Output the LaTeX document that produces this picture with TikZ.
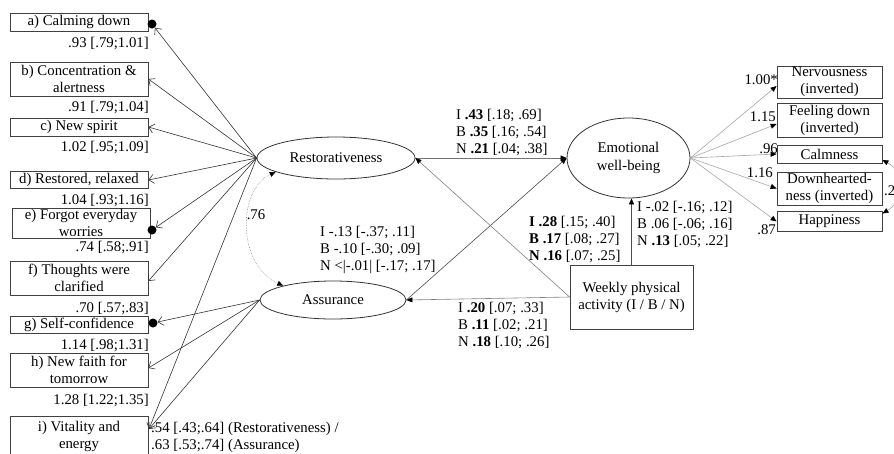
\documentclass[tikz,border=0pt]{standalone}
\usepackage{fontspec}
\setmainfont{Liberation Serif}
\usetikzlibrary{arrows.meta,shapes.geometric}
\begin{document}
\begin{tikzpicture}[x=1pt,y=-1pt,
  every node/.style={font=\fontsize{14.8}{17}\selectfont, inner sep=0pt},
  item/.style={draw=black!75, line width=0.8pt, minimum width=138pt, align=center},
  ind/.style={draw=black!75, line width=0.8pt, minimum width=105pt, align=center},
  latent/.style={draw=black!80, line width=0.8pt, ellipse, align=center},
  dotmark/.style={circle, fill=black, minimum size=9pt},
  lbl/.style={align=left},
  loadl/.style={draw=black!80, line width=0.6pt, -{Straight Barb[length=5pt,width=9pt]}},
  effect/.style={line width=0.6pt, -{Triangle[length=6pt,width=5pt,color=black]}},
  loadr/.style={draw=black!35, line width=0.6pt, -{Triangle[length=6pt,width=5pt,color=black]}},
  covar/.style={line width=0.6pt, {Triangle[length=6pt,width=5pt,color=black]}-{Triangle[length=6pt,width=5pt,color=black]}}
]
\useasboundingbox (0,0) rectangle (894,453);

% ---- restorative outcome items (left) ----
\node[item, minimum height=18pt] (a) at (79,22) {a) Calming down};
\node[item, minimum height=34pt] (b) at (79,79) {b) Concentration \&\\alertness};
\node[item, minimum height=18pt] (c) at (79,127) {c) New spirit};
\node[item, minimum height=17pt] (d) at (79,180) {d) Restored, relaxed};
\node[item, minimum height=30pt] (e) at (81,223) {e) Forgot everyday\\worries};
\node[item, minimum height=34pt] (f) at (79,278) {f) Thoughts were\\clarified};
\node[item, minimum height=17pt] (g) at (79,324.5) {g) Self-confidence};
\node[item, minimum height=34pt] (h) at (79,370) {h) New faith for\\tomorrow};
\node[item, minimum height=40pt] (i) at (79,436) {i) Vitality and\\energy};

\node[dotmark] (adot) at (152,24) {};
\node[dotmark] (edot) at (152,230) {};
\node[dotmark] (gdot) at (153,323) {};
\coordinate (ip) at (149,429);

% loadings
\node[anchor=east] (la) at (149,44) {.93 [.79;1.01]};
\node[anchor=east] (lb) at (149,108) {.91 [.79;1.04]};
\node[anchor=east] (lc) at (149,148) {1.02 [.95;1.09]};
\node[anchor=east] (ld) at (149,200) {1.04 [.93;1.16]};
\node[anchor=east] (le) at (149,247) {.74 [.58;.91]};
\node[anchor=east] (lf) at (149,308) {.70 [.57;.83]};
\node[anchor=east] (lg) at (149,345) {1.14 [.98;1.31]};
\node[anchor=east] (lh) at (149,400) {1.28 [1.22;1.35]};
\node[lbl, anchor=west] (li) at (151,437) {.54 [.43;.64] (Restorativeness) /\\.63 [.53;.74] (Assurance)};

% ---- latent factors ----
\node[latent, minimum width=158pt, minimum height=42pt] (rest) at (336,158) {Restorativeness};
\node[latent, minimum width=146pt, minimum height=38pt] (ass) at (333,300) {Assurance};
\node[latent, minimum width=123pt, minimum height=80pt, font=\fontsize{14.8}{18}\selectfont] (emo) at (628.5,158) {Emotional\\well-being};
\node[draw=black!75, line width=0.8pt, minimum width=123pt, minimum height=64pt, align=center] (wk) at (631.5,297) {Weekly physical\\activity (I / B / N)};

% ---- emotional well-being indicators (right) ----
\node[ind, minimum height=32pt] (nerv) at (829.5,82) {Nervousness\\(inverted)};
\node[ind, minimum height=34pt] (down) at (829.5,120) {Feeling down\\(inverted)};
\node[ind, minimum height=18pt] (calm) at (829.5,154) {Calmness};
\node[ind, minimum height=33pt] (dhn) at (829.5,188.5) {Downhearted-\\ness (inverted)};
\node[ind, minimum height=20pt] (hap) at (829.5,221.5) {Happiness};

% ---- factor loadings, left ----
\draw[loadl] (rest.west) -- (adot);
\draw[loadl] (rest.west) -- (b.east);
\draw[loadl] (rest.west) -- (c.east);
\draw[loadl] (rest.west) -- (d.east);
\draw[loadl] (rest.west) -- (edot);
\draw[loadl] (rest.west) -- ([yshift=-3pt]f.east);
\draw[loadl] (rest.west) -- (ip);
\draw[loadl] (ass.west) -- (gdot);
\draw[loadl] (ass.west) -- ([yshift=2pt]h.east);
\draw[loadl] (ass.west) -- (ip);

% factor covariance
\draw[covar, draw=black!45, densely dotted] (rest.-167) .. controls (237,190) and (237,265) .. (ass.164);
\node (c76) at (256,215) {.76};

% ---- structural paths ----
\draw[effect, draw=black!55] (rest.east) -- (emo.west);
\draw[effect, draw=black!70] (ass.east) -- (emo.west);
\draw[effect, draw=black!50] (wk.west) -- (rest.east);
\draw[effect, draw=black!50] (wk.west) -- (ass.east);
\draw[effect, draw=black!70] (wk.north) -- (wk.north |- emo.south);

\node[lbl, anchor=west] (pre) at (456,132) {I \textbf{.43} [.18; .69]\\B \textbf{.35} [.16; .54]\\N \textbf{.21} [.04; .38]};
\node[lbl, anchor=west] (pae) at (320,250) {I -.13 [-.37; .11]\\B -.10 [-.30; .09]\\N <|-.01| [-.17; .17]};
\node[lbl, anchor=west] (pwr) at (529,239) {\textbf{I .28} [.15; .40]\\\textbf{B .17} [.08; .27]\\\textbf{N .16} [.07; .25]};
\node[lbl, anchor=west] (pwe) at (637,224) {I -.02 [-.16; .12]\\B .06 [-.06; .16]\\N \textbf{.13} [.05; .22]};
\node[lbl, anchor=west] (pwa) at (458,325) {I \textbf{.20} [.07; .33]\\B \textbf{.11} [.02; .21]\\N \textbf{.18} [.10; .26]};

% ---- loadings, right ----
\draw[loadr] (emo.east) -- ([yshift=-4pt]nerv.west);
\draw[loadr] (emo.east) -- ([yshift=-4pt]down.west);
\draw[loadr] (emo.east) -- (calm.west);
\draw[loadr] (emo.east) -- (dhn.west);
\draw[loadr] (emo.east) -- (hap.west);

\node[anchor=east] (l1) at (778,80) {1.00*};
\node[anchor=east] (l2) at (776,117) {1.15};
\node[anchor=east] (l3) at (778,149) {.96};
\node[anchor=east] (l4) at (773,173) {1.16};
\node[anchor=east] (l5) at (776,230) {.87};

% residual covariance
\draw[covar, draw=black!35] ([yshift=-6pt]calm.east) .. controls (905,172) and (905,200) .. ([yshift=8pt]hap.east);
\node[anchor=west] (c22) at (884,191) {.22};
\end{tikzpicture}
\end{document}
